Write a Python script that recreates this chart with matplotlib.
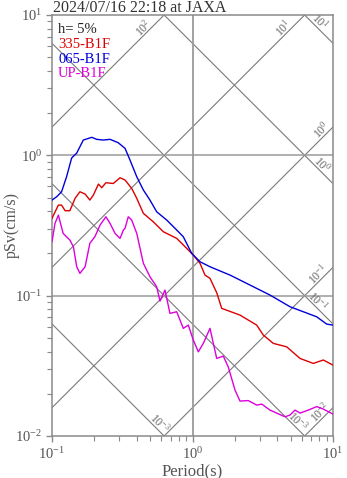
import numpy as np
import matplotlib
matplotlib.use("Agg")
import matplotlib.pyplot as plt
from matplotlib.ticker import LogLocator, LogFormatterMathtext, NullFormatter

plt.rcParams['font.family'] = ['Liberation Serif', 'DejaVu Serif']
plt.rcParams['mathtext.fontset'] = 'custom'
plt.rcParams['mathtext.rm'] = 'Liberation Serif'
plt.rcParams['mathtext.it'] = 'Liberation Serif:italic'
plt.rcParams['mathtext.bf'] = 'Liberation Serif:bold'

# ---------------- data ----------------
title = "2024/07/16 22:18 at JAXA"
damping_label = "h= 5%"
series_names = ["335-B1F", "065-B1F", "UP-B1F"]
series_colors = ["#dd0000", "#0000dd", "#dd00dd"]
x_label = "Period(s)"
y_label = "pSv(cm/s)"

period_335 = [0.100, 0.111, 0.117, 0.124, 0.134, 0.146, 0.158, 0.172, 0.186, 0.197,
              0.214, 0.226, 0.242, 0.273, 0.305, 0.331, 0.369, 0.401, 0.447, 0.526,
              0.620, 0.772, 0.909, 1.013, 1.131, 1.227, 1.332, 1.487, 1.614, 2.178,
              2.863, 3.190, 3.759, 4.683, 5.823, 7.242, 8.530, 10.0]
psv_335 = [0.356, 0.442, 0.442, 0.403, 0.403, 0.494, 0.550, 0.530, 0.480, 0.521,
           0.624, 0.588, 0.638, 0.630, 0.692, 0.667, 0.582, 0.494, 0.386, 0.336,
           0.2855, 0.256, 0.2174, 0.1947, 0.170, 0.1402, 0.1328, 0.105, 0.0812, 0.0727,
           0.0617, 0.0524, 0.0457, 0.0432, 0.0357, 0.0329, 0.0348, 0.0320]

period_065 = [0.100, 0.108, 0.117, 0.127, 0.138, 0.150, 0.167, 0.192, 0.208, 0.232,
              0.259, 0.296, 0.331, 0.359, 0.401, 0.447, 0.498, 0.556, 0.655, 0.772,
              0.860, 0.987, 1.131, 1.332, 1.849, 2.567, 3.561, 4.943, 6.147, 7.656,
              9.020, 10.0]
psv_065 = [0.480, 0.507, 0.550, 0.704, 0.957, 1.038, 1.285, 1.344, 1.300, 1.285,
           1.300, 1.230, 1.122, 0.926, 0.704, 0.566, 0.480, 0.396, 0.346, 0.2935,
           0.263, 0.200, 0.1744, 0.1607, 0.1402, 0.119, 0.101, 0.0834, 0.0768, 0.0707,
           0.0627, 0.0617]

period_up = [0.100, 0.105, 0.111, 0.120, 0.134, 0.142, 0.150, 0.158, 0.172, 0.186,
             0.202, 0.220, 0.242, 0.259, 0.281, 0.305, 0.322, 0.331, 0.349, 0.369,
             0.401, 0.447, 0.498, 0.556, 0.587, 0.637, 0.691, 0.772, 0.860, 0.934,
             1.013, 1.100, 1.194, 1.332, 1.487, 1.657, 1.798, 2.007, 2.178, 2.496,
             2.863, 3.108, 3.561, 4.553, 4.943, 5.365, 5.823, 6.673, 7.656, 8.530, 10.0]
psv_up = [0.242, 0.327, 0.375, 0.278, 0.249, 0.223, 0.1607, 0.1442, 0.1607, 0.236,
          0.263, 0.319, 0.365, 0.327, 0.278, 0.256, 0.2935, 0.302, 0.365, 0.346,
          0.278, 0.170, 0.1364, 0.1157, 0.0915, 0.1096, 0.0748, 0.0768, 0.0585, 0.0617,
          0.0483, 0.0398, 0.0457, 0.0585, 0.0357, 0.0371, 0.0310, 0.02125, 0.01774, 0.01788,
          0.0166, 0.01688, 0.0153, 0.0137, 0.0141, 0.0153, 0.01456, 0.0153, 0.0162, 0.01555, 0.01432]

# tripartite guide lines
sa_levels = [1e-2, 1e-1, 1e0, 1e1, 1e2]          # pseudo acceleration (gal)
sa_texts = [r"$10^{-2}$", r"$10^{-1}$", r"$10^{0}$", r"$10^{1}$", r"$10^{2}$"]
sa_label_T = [8.66, 8.38, 8.94, 4.72, 0.476]
sd_levels = [1e-3, 1e-2, 1e-1, 1e0, 1e1]          # displacement (cm)
sd_texts = [r"$10^{-3}$", r"$10^{-3}$", r"$10^{-1}$", r"$10^{0}$", r"$10^{1}$"]
sd_label_T = [0.548, 5.26, 7.30, 7.80, 7.54]

# ---------------- figure ----------------
fig = plt.figure(figsize=(3.47, 4.78), dpi=100)
ax = fig.add_axes([52/347, 42/478, 281/347, 421/478])
ax.set_xscale('log')
ax.set_yscale('log')
ax.set_xlim(0.1, 10)
ax.set_ylim(0.01, 10)

grid_c = '#9a9a9a'
diag_c = '#7a7a7a'
T = np.logspace(-1, 1, 200)
for sa in sa_levels:
    ax.plot(T, sa * T / (2 * np.pi), color=diag_c, lw=0.8, zorder=1)
for sd in sd_levels:
    ax.plot(T, 2 * np.pi * sd / T, color=diag_c, lw=0.8, zorder=1)

ax.axhline(1.0, color=grid_c, lw=1.1, zorder=1)
ax.axhline(0.1, color=grid_c, lw=1.1, zorder=1)
ax.axvline(1.0, color=grid_c, lw=1.3, zorder=1)

lab_c = '#666666'
for sa, txt, tl in zip(sa_levels, sa_texts, sa_label_T):
    ax.annotate(txt, xy=(tl, sa * tl / (2 * np.pi)), xytext=(-3, 3),
                textcoords='offset points', rotation=45, rotation_mode='anchor',
                ha='center', va='center', fontsize=8.5, color=lab_c, zorder=2)
for sd, txt, tl in zip(sd_levels, sd_texts, sd_label_T):
    ax.annotate(txt, xy=(tl, 2 * np.pi * sd / tl), xytext=(3, 3),
                textcoords='offset points', rotation=-45, rotation_mode='anchor',
                ha='center', va='center', fontsize=8.5, color=lab_c, zorder=2)

ax.plot(period_335, psv_335, color=series_colors[0], lw=1.0, zorder=3)
ax.plot(period_065, psv_065, color=series_colors[1], lw=1.0, zorder=3)
ax.plot(period_up, psv_up, color=series_colors[2], lw=1.0, zorder=3)

# legend-like texts
ax.text(0.022, 0.966, damping_label, transform=ax.transAxes, fontsize=10.5,
        color='#222222', va='center', ha='left')
for i, (nm, c) in enumerate(zip(series_names, series_colors)):
    ax.text(0.022, 0.930 - i * 0.035, nm, transform=ax.transAxes, fontsize=10.5,
            color=c, va='center', ha='left')

spine_c = '#8a8a8a'
for s in ax.spines.values():
    s.set_color(spine_c)
    s.set_linewidth(1.1)

ax.xaxis.set_major_locator(LogLocator(base=10, numticks=10))
ax.yaxis.set_major_locator(LogLocator(base=10, numticks=10))
ax.xaxis.set_minor_locator(LogLocator(base=10, subs=np.arange(2, 10), numticks=10))
ax.yaxis.set_minor_locator(LogLocator(base=10, subs=np.arange(2, 10), numticks=10))
ax.xaxis.set_major_formatter(LogFormatterMathtext())
ax.yaxis.set_major_formatter(LogFormatterMathtext())
ax.xaxis.set_minor_formatter(NullFormatter())
ax.yaxis.set_minor_formatter(NullFormatter())
ax.tick_params(which='both', direction='out', color=spine_c, labelcolor='#555555',
               top=False, right=False)
ax.tick_params(which='major', length=4, width=1.0, labelsize=10.5, pad=3)
ax.tick_params(which='minor', length=3.5, width=0.8)

ax.set_xlabel(x_label, fontsize=12, color='#555555', labelpad=1)
ax.set_ylabel(y_label, fontsize=11.5, color='#555555', va='center')
ax.yaxis.set_label_coords(-0.142, 0.5)
fig.text(53/347, 1 - 8/478, title, fontsize=11.5, color='#333333',
         ha='left', va='center')

fig.savefig("out.png", dpi=100)
